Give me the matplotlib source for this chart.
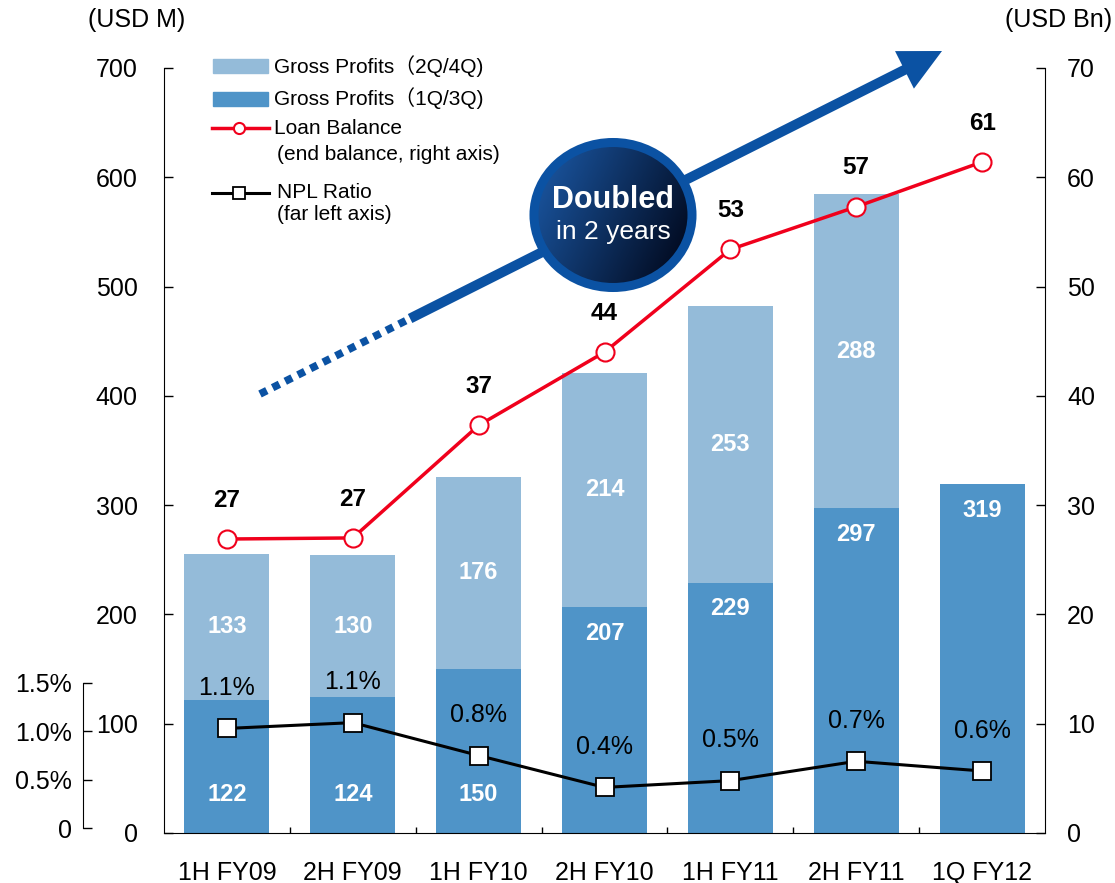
import numpy as np
import matplotlib
matplotlib.use("Agg")
import matplotlib.pyplot as plt
from matplotlib.patches import Rectangle, Ellipse, FancyArrow
from matplotlib.lines import Line2D

plt.rcParams['font.family'] = ['Liberation Sans', 'Noto Sans CJK JP', 'DejaVu Sans']
plt.rcParams['font.size'] = 18

# data
periods = ['1H FY09', '2H FY09', '1H FY10', '2H FY10', '1H FY11', '2H FY11', '1Q FY12']
gp_1q3q = [122, 124, 150, 207, 229, 297, 319]
gp_2q4q = [133, 130, 176, 214, 253, 288, 0]
loan_balance = [26.9, 27.0, 37.3, 44.0, 53.4, 57.3, 61.4]   # USD Bn, right axis
npl_ratio = [1.03, 1.09, 0.75, 0.42, 0.49, 0.69, 0.59]     # %, far left axis
npl_labels = ['1.1%', '1.1%', '0.8%', '0.4%', '0.5%', '0.7%', '0.6%']

c_light = '#94BBD9'
c_dark = '#4F94C8'
c_red = '#F0001C'
c_arrow = '#0B52A3'

W, H = 1115, 883
fig = plt.figure(figsize=(W / 100, H / 100), dpi=100)

# main axes in pixel terms: x 164..1045, y 68..833
ax = fig.add_axes([164 / W, (H - 833) / H, 881 / W, 765 / H])
x = np.arange(len(periods))
ax.bar(x, gp_1q3q, width=0.676, color=c_dark, zorder=2)
ax.bar(x, gp_2q4q, width=0.676, bottom=gp_1q3q, color=c_light, zorder=2)
ax.set_xlim(-0.5, 6.5)
ax.set_ylim(0, 700)
ax.set_yticks(range(0, 701, 100))
ax.set_xticks(x)
ax.set_xticklabels(periods)
ax.set_xticks(x[:-1] + 0.5, minor=True)
ax.tick_params(axis='y', direction='in', length=6.5, width=1, pad=19)
ax.tick_params(axis='x', which='major', length=0, pad=20)
ax.tick_params(axis='x', which='minor', direction='in', length=4.5, width=1)
ax.spines['top'].set_visible(False)
ax.spines['right'].set_visible(False)

for i in range(len(periods)):
    lo = gp_1q3q[i]
    y_lo = lo - 24 if lo > 180 else 35
    ax.text(i, y_lo, str(lo), ha='center', va='center', color='white',
            fontsize=17, fontweight='bold', zorder=3)
    hi = gp_2q4q[i]
    if hi > 0:
        ax.text(i, lo + hi / 2, str(hi), ha='center', va='center', color='white',
                fontsize=17, fontweight='bold', zorder=3)

# right axis: loan balance
ax2 = ax.twinx()
ax2.set_ylim(0, 70)
ax2.set_yticks(range(0, 71, 10))
ax2.tick_params(axis='y', direction='in', length=6.5, width=1, pad=16)
for s in ['top', 'left', 'bottom']:
    ax2.spines[s].set_visible(False)
ax2.plot(x, loan_balance, color=c_red, lw=2.5, marker='o', ms=13,
         mfc='white', mec=c_red, mew=1.5, zorder=4)
for i, v in enumerate(loan_balance):
    ax2.annotate(f'{v:.0f}', (i, v), xytext=(0, 28), textcoords='offset points',
                 ha='center', va='center', fontsize=17.5, fontweight='bold')

# NPL ratio drawn on its own scale (0 at y=828px, 1.5% at y=683px)
px_per_pct = 145 / 1.5
ymin = -5 / px_per_pct
ax3 = ax.twinx()
ax3.set_ylim(ymin, ymin + 765 / px_per_pct)
ax3.axis('off')
ax3.plot(x, npl_ratio, color='black', lw=2.2, marker='s', ms=12.5,
         mfc='white', mec='black', mew=1.3, zorder=4)
for i, v in enumerate(npl_ratio):
    ax3.annotate(npl_labels[i], (i, v), xytext=(0, 29), textcoords='offset points',
                 ha='center', va='center', fontsize=18)

# far left axis for NPL ratio
axf = fig.add_axes([83 / W, (H - 828) / H, 20 / W, 145 / H])
axf.set_ylim(0, 1.5)
axf.patch.set_visible(False)
axf.set_xticks([])
for s in ['top', 'right', 'bottom']:
    axf.spines[s].set_visible(False)
axf.set_yticks([0, 0.5, 1.0, 1.5])
axf.set_yticklabels(['0', '0.5%', '1.0%', '1.5%'])
axf.set_yticks([0, 1.5], minor=True)
axf.tick_params(axis='y', which='major', direction='in', length=6.5, width=1, pad=8)
axf.tick_params(axis='y', which='minor', direction='in', length=11, width=1)

# overlay in image pixels for units, legend, arrow and badge
ov = fig.add_axes([0, 0, 1, 1])
ov.set_xlim(0, W)
ov.set_ylim(H, 0)
ov.axis('off')

ov.text(88, 20, '(USD M)', ha='left', va='center', fontsize=18)
ov.text(1112, 20, '(USD Bn)', ha='right', va='center', fontsize=18)

# legend
ov.add_patch(Rectangle((213, 59), 55, 14, color=c_light))
ov.add_patch(Rectangle((213, 92), 55, 14, color=c_dark))
ov.add_line(Line2D([212, 269], [128, 128], color=c_red, lw=2.5))
ov.plot([239], [128], marker='o', ms=8, mfc='white', mec=c_red, mew=1.5)
ov.add_line(Line2D([212, 269], [193, 193], color='black', lw=2.2))
ov.plot([239], [193], marker='s', ms=9, mfc='white', mec='black', mew=1.3)
leg_fs = 15
ov.text(274, 66, 'Gross Profits（2Q/4Q)', va='center', fontsize=leg_fs)
ov.text(274, 98, 'Gross Profits（1Q/3Q)', va='center', fontsize=leg_fs)
ov.text(274, 128, 'Loan Balance', va='center', fontsize=leg_fs)
ov.text(277, 154, '(end balance, right axis)', va='center', fontsize=leg_fs)
ov.text(277, 192, 'NPL Ratio', va='center', fontsize=leg_fs)
ov.text(277, 215, '(far left axis)', va='center', fontsize=leg_fs)

# growth arrow: dotted tail then solid shaft with head
sx, sy = 260, 394
tx, ty = 942, 51
L = np.hypot(tx - sx, ty - sy)
ux, uy = (tx - sx) / L, (ty - sy) / L
mid = 168
mx, my = sx + ux * mid, sy + uy * mid
ov.plot([sx, mx], [sy, my], color=c_arrow, lw=5.5, linestyle=(0, (1.0, 0.85)),
        solid_capstyle='butt', dash_capstyle='butt')
ov.add_patch(FancyArrow(mx, my, tx - mx, ty - my, width=10, head_width=42,
                        head_length=42, length_includes_head=True,
                        color=c_arrow, lw=0))

# badge with gradient fill
cx, cy, ew, eh = 613, 215, 158, 145
gy, gx = np.mgrid[0:1:120j, 0:1:120j]
t = np.clip(gx * 0.8 + gy * 0.35 - 0.1, 0, 1)
c0 = np.array([0.10, 0.33, 0.62])
c1 = np.array([0.0, 0.02, 0.09])
grad = c0 * (1 - t[..., None]) + c1 * t[..., None]
clip = Ellipse((cx, cy), ew, eh, transform=ov.transData, facecolor='none', lw=0)
ov.add_patch(clip)
img = ov.imshow(grad, extent=(cx - ew / 2, cx + ew / 2, cy + eh / 2, cy - eh / 2),
                origin='upper', aspect='auto', zorder=3)
img.set_clip_path(clip)
ov.add_patch(Ellipse((cx, cy), ew, eh, facecolor='none', edgecolor=c_arrow,
                     lw=6.5, zorder=4))
ov.set_xlim(0, W)
ov.set_ylim(H, 0)
ov.text(cx, 200, 'Doubled', ha='center', va='center', color='white',
        fontsize=22, fontweight='bold', zorder=5)
ov.text(cx, 232, 'in 2 years', ha='center', va='center', color='white',
        fontsize=19, zorder=5)

fig.savefig('out.png', dpi=100)
